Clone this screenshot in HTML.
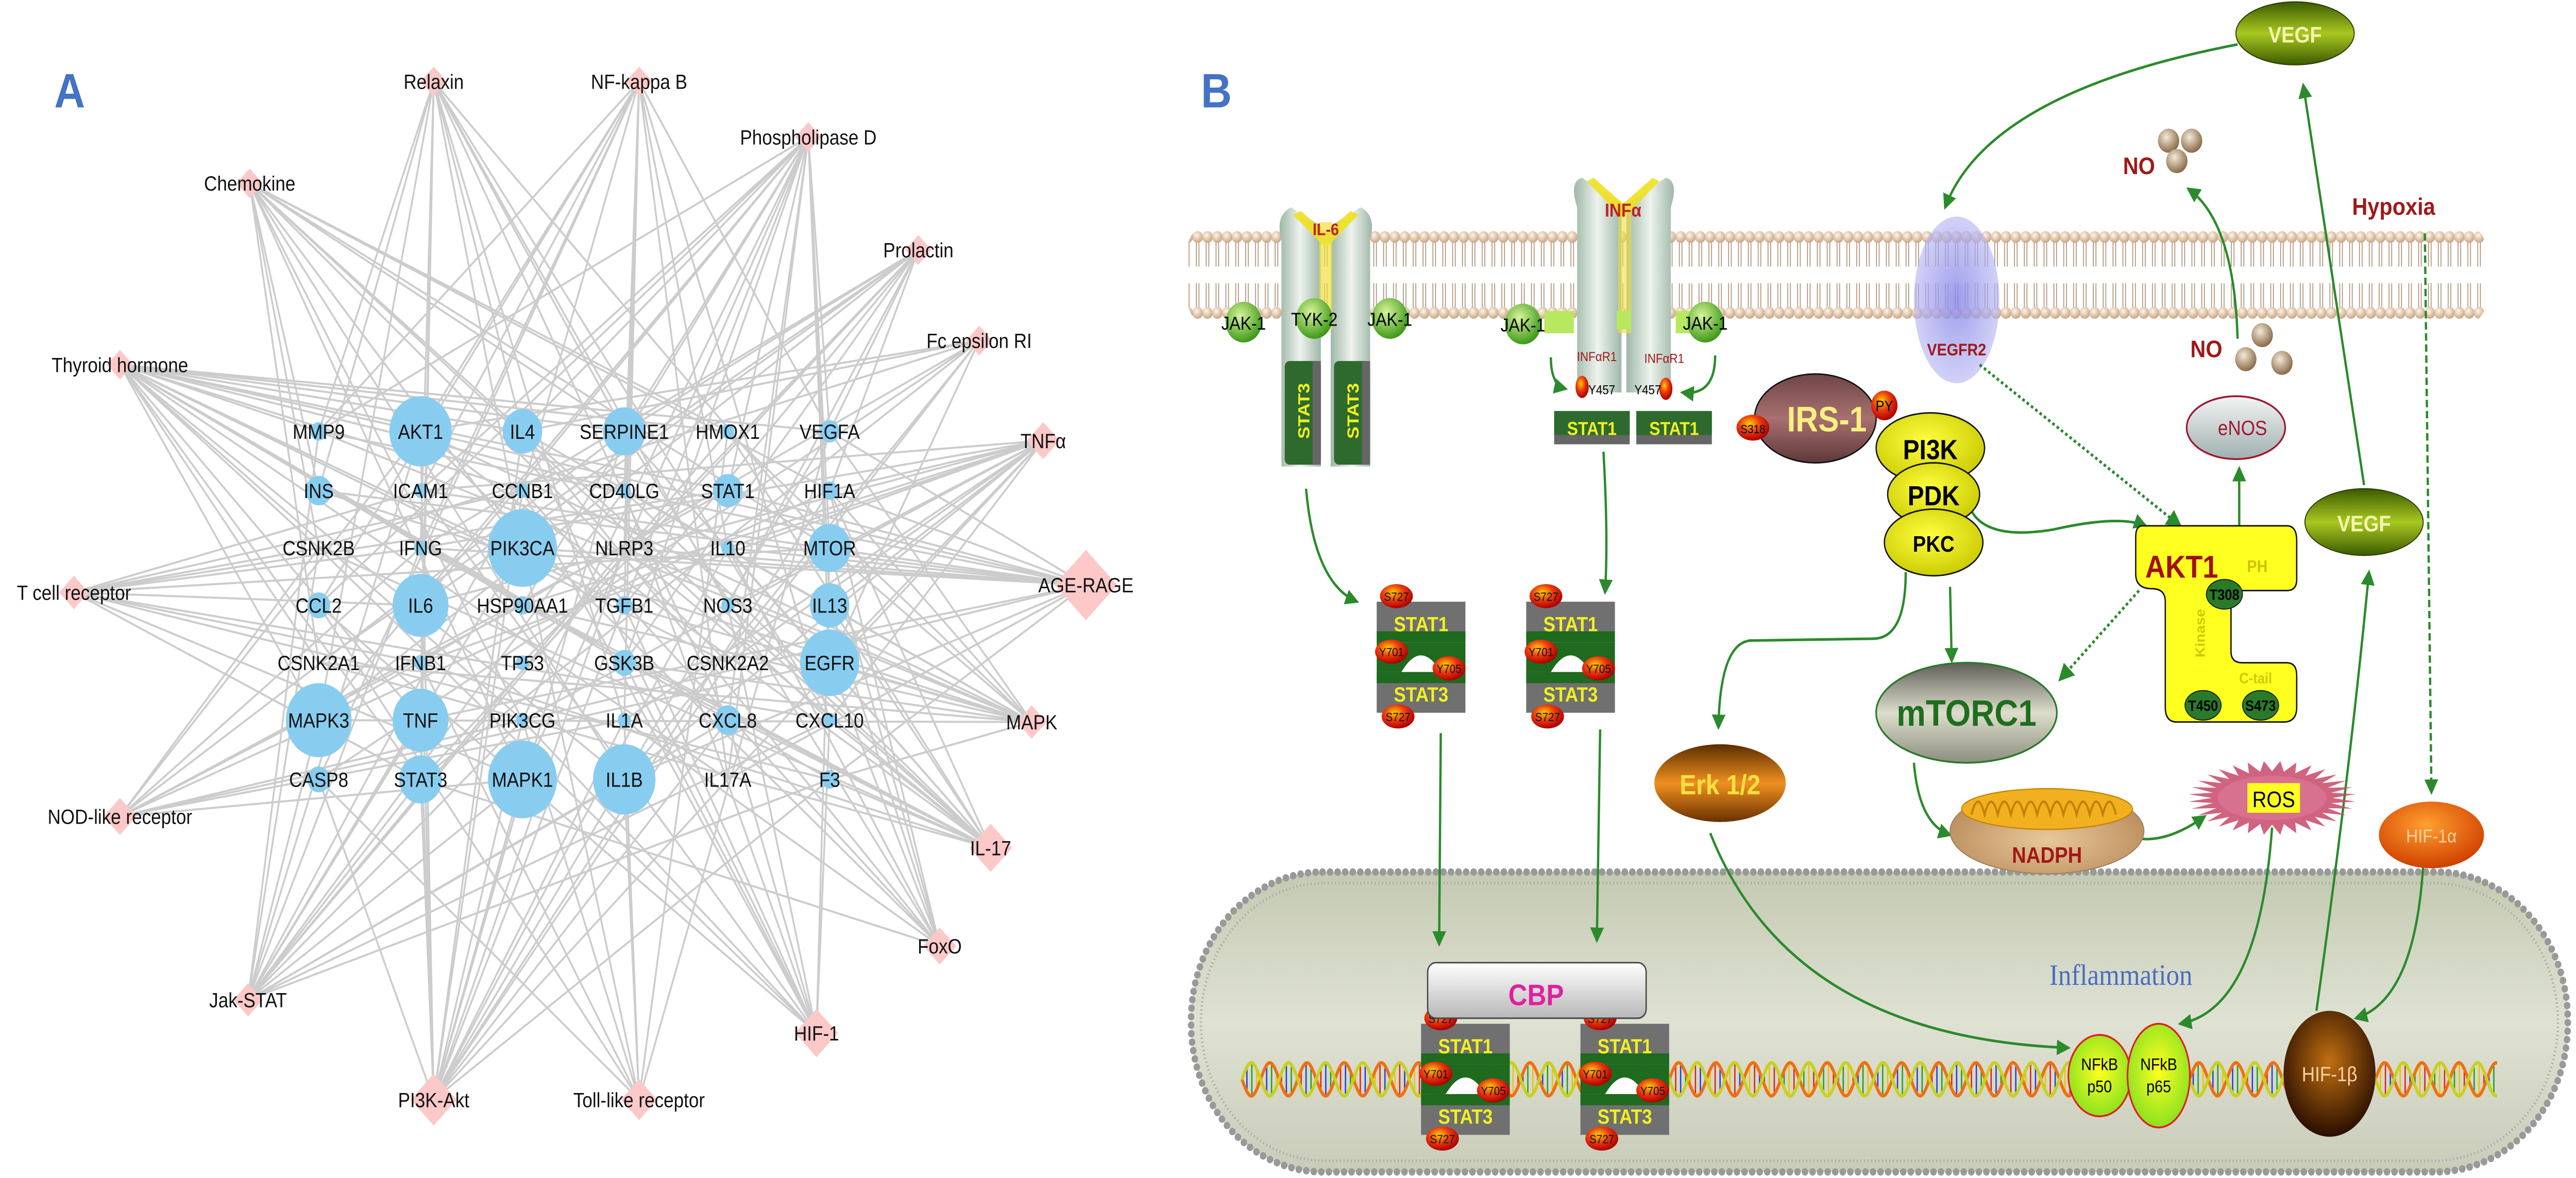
<!DOCTYPE html>
<html><head><meta charset="utf-8"><style>
html,body{margin:0;padding:0;background:#fff;width:100%;height:100%;overflow:hidden}
svg{display:block;position:absolute;left:0;top:0;width:100vw;height:100vh}
text{font-family:"Liberation Sans",sans-serif}
</style></head><body>
<svg id="s" xmlns="http://www.w3.org/2000/svg" viewBox="0 0 1568 636.3" preserveAspectRatio="none">
<defs>
<marker id="ar" markerWidth="6" markerHeight="6" refX="5" refY="3" orient="auto" markerUnits="strokeWidth"><path d="M0,0 L6,3 L0,6 z" fill="#2b8a2b"/></marker>
<radialGradient id="head" cx="40%" cy="35%" r="65%"><stop offset="0" stop-color="#fff5ea"/><stop offset="1" stop-color="#c9a684"/></radialGradient>
<pattern id="mem" x="0" y="122" width="6" height="53" patternUnits="userSpaceOnUse">
<line x1="2.2" y1="8" x2="2.2" y2="22" stroke="#a88c70" stroke-width="0.5"/><line x1="3.8" y1="8" x2="3.8" y2="22" stroke="#a88c70" stroke-width="0.5"/>
<line x1="2.2" y1="31" x2="2.2" y2="45" stroke="#a88c70" stroke-width="0.5"/><line x1="3.8" y1="31" x2="3.8" y2="45" stroke="#a88c70" stroke-width="0.5"/>
<circle cx="3" cy="6" r="3.2" fill="url(#head)"/><circle cx="3" cy="47" r="3.2" fill="url(#head)"/>
</pattern>
<linearGradient id="nuc" x1="0" y1="0" x2="0" y2="1"><stop offset="0" stop-color="#c4c9b2"/><stop offset="0.5" stop-color="#dfe2d3"/><stop offset="1" stop-color="#c9ccb9"/></linearGradient>
<linearGradient id="tube" x1="0" y1="0" x2="1" y2="0"><stop offset="0" stop-color="#9fb7a8"/><stop offset="0.5" stop-color="#eef3ee"/><stop offset="1" stop-color="#9fb7a8"/></linearGradient>
<radialGradient id="jak" cx="40%" cy="35%" r="65%"><stop offset="0" stop-color="#d8f59a"/><stop offset="1" stop-color="#3f9a1a"/></radialGradient>
<radialGradient id="red" cx="40%" cy="35%" r="65%"><stop offset="0" stop-color="#ffd000"/><stop offset="0.5" stop-color="#e83a10"/><stop offset="1" stop-color="#b00000"/></radialGradient>
<radialGradient id="yel" cx="45%" cy="40%" r="65%"><stop offset="0" stop-color="#ffff40"/><stop offset="1" stop-color="#c8c800"/></radialGradient>
<linearGradient id="irs" x1="0" y1="0" x2="0" y2="1"><stop offset="0" stop-color="#6e4545"/><stop offset="0.5" stop-color="#a87070"/><stop offset="1" stop-color="#5e3838"/></linearGradient>
<linearGradient id="mtor" x1="0" y1="0" x2="0" y2="1"><stop offset="0" stop-color="#5e5e58"/><stop offset="0.5" stop-color="#ddddcc"/><stop offset="1" stop-color="#8e8e80"/></linearGradient>
<linearGradient id="erk" x1="0" y1="0" x2="0" y2="1"><stop offset="0" stop-color="#5a2c00"/><stop offset="0.5" stop-color="#f09020"/><stop offset="1" stop-color="#6a3000"/></linearGradient>
<linearGradient id="vegf" x1="0" y1="0" x2="0" y2="1"><stop offset="0" stop-color="#3c5a00"/><stop offset="0.5" stop-color="#a8c820"/><stop offset="1" stop-color="#3c5a00"/></linearGradient>
<radialGradient id="no" cx="40%" cy="35%" r="65%"><stop offset="0" stop-color="#f4ead8"/><stop offset="1" stop-color="#8a6a48"/></radialGradient>
<linearGradient id="enos" x1="0" y1="0" x2="0" y2="1"><stop offset="0" stop-color="#f4f4f4"/><stop offset="1" stop-color="#9fb0b0"/></linearGradient>
<radialGradient id="hifa" cx="45%" cy="35%" r="65%"><stop offset="0" stop-color="#ffa030"/><stop offset="1" stop-color="#d04000"/></radialGradient>
<radialGradient id="hifb" cx="50%" cy="40%" r="60%"><stop offset="0" stop-color="#c07010"/><stop offset="1" stop-color="#2a0e00"/></radialGradient>
<radialGradient id="nfk" cx="50%" cy="45%" r="60%"><stop offset="0" stop-color="#ffff20"/><stop offset="1" stop-color="#80e020"/></radialGradient>
<radialGradient id="mito" cx="50%" cy="60%" r="60%"><stop offset="0" stop-color="#e8c89a"/><stop offset="1" stop-color="#b88a5a"/></radialGradient>
<radialGradient id="vr" cx="50%" cy="50%" r="55%"><stop offset="0" stop-color="#8a8ae8"/><stop offset="1" stop-color="#b8b8f4" stop-opacity="0.7"/></radialGradient>
<linearGradient id="cbp" x1="0" y1="0" x2="0" y2="1"><stop offset="0" stop-color="#ffffff"/><stop offset="1" stop-color="#b8b8b8"/></linearGradient>
</defs>

<g id="edges" stroke="#cccccc" stroke-width="1.1" fill="none"></g>
<g id="nodes"></g>
<text x="33" y="58" font-size="26" font-weight="bold" fill="#4472c4">A</text>

<text x="731" y="58" font-size="26" font-weight="bold" fill="#4472c4">B</text>
<rect x="723" y="122" width="790" height="53" rx="12" fill="url(#mem)"/>
<rect x="725" y="471" width="838" height="162" rx="80" fill="url(#nuc)" stroke="#999" stroke-width="4" stroke-dasharray="0 4.6" stroke-linecap="round"/>
<rect x="731" y="477" width="826" height="150" rx="75" fill="none" stroke="#aaa" stroke-width="1.5" stroke-dasharray="0.6 1.6"/>
<g id="dna"></g>
<text x="1291" y="532" font-size="16" fill="#4a6ec0" text-anchor="middle" style="font-family:'Liberation Serif',serif">Inflammation</text>

<path d="M780,252 L780,130 Q776,116 786,112 L804,122 L804,252 Z" fill="url(#tube)"/>
<path d="M810,252 L810,122 L828,112 Q838,116 834,130 L834,252 Z" fill="url(#tube)"/>
<path d="M787,116 L807,134 L827,116 L822,114 L807,126 L792,114Z" fill="#f0e020" opacity="0.9"/>
<rect x="803" y="120" width="8" height="58" fill="#f0e040" opacity="0.7"/>
<text x="807" y="127" font-size="9" font-weight="bold" fill="#c02020" text-anchor="middle">IL-6</text>
<rect x="782" y="195" width="22" height="56" rx="3" fill="#2e6a2e"/><rect x="812" y="195" width="22" height="56" rx="3" fill="#2e6a2e"/>
<rect x="799" y="195" width="5" height="56" fill="#666"/><rect x="829" y="195" width="5" height="56" fill="#666"/>
<text transform="translate(797,222) rotate(-90)" font-size="10" font-weight="bold" fill="#f0f020" text-anchor="middle">STAT3</text>
<text transform="translate(827,222) rotate(-90)" font-size="10" font-weight="bold" fill="#f0f020" text-anchor="middle">STAT3</text>
<circle cx="757" cy="174" r="11" fill="url(#jak)"/><circle cx="800" cy="172" r="11" fill="url(#jak)"/><circle cx="846" cy="172" r="11" fill="url(#jak)"/>
<text x="757" y="178" font-size="10" text-anchor="middle">JAK-1</text>
<text x="800" y="176" font-size="10" text-anchor="middle">TYK-2</text>
<text x="846" y="176" font-size="10" text-anchor="middle">JAK-1</text>

<path d="M960,212 L960,112 Q955,98 963,96 L987,110 L987,212 Z" fill="url(#tube)"/>
<path d="M990,212 L990,110 L1014,96 Q1022,98 1017,112 L1017,212 Z" fill="url(#tube)"/>
<path d="M966,98 L988,118 L1010,98 L1006,96 L988,110 L970,96Z" fill="#f0e020" opacity="0.9"/>
<rect x="985" y="110" width="8" height="70" fill="#f0e040" opacity="0.6"/>
<text x="988" y="117" font-size="10" font-weight="bold" fill="#c02020" text-anchor="middle">INFα</text>
<rect x="940" y="168" width="18" height="12" fill="#b8e860"/><rect x="984" y="168" width="9" height="10" fill="#b8e860"/><rect x="1020" y="168" width="14" height="12" fill="#b8e860"/>
<circle cx="927" cy="175" r="11" fill="url(#jak)"/><circle cx="1038" cy="174" r="11" fill="url(#jak)"/>
<text x="927" y="179" font-size="10" text-anchor="middle">JAK-1</text>
<text x="1038" y="178" font-size="10" text-anchor="middle">JAK-1</text>
<text x="972" y="195" font-size="7" fill="#a01818" text-anchor="middle">INFαR1</text>
<text x="1013" y="196" font-size="7" fill="#a01818" text-anchor="middle">INFαR1</text>
<ellipse cx="963" cy="209" rx="4" ry="6" fill="url(#red)"/><ellipse cx="1014" cy="210" rx="4" ry="6" fill="url(#red)"/>
<text x="975" y="213" font-size="7" text-anchor="middle">Y457</text><text x="1003" y="213" font-size="7" text-anchor="middle">Y457</text>
<rect x="946" y="222" width="46" height="18" fill="#666"/><rect x="946" y="222" width="46" height="13" fill="#2e6a2e"/>
<rect x="996" y="222" width="46" height="18" fill="#666"/><rect x="996" y="222" width="46" height="13" fill="#2e6a2e"/>
<text x="969" y="235" font-size="10" font-weight="bold" fill="#f0f020" text-anchor="middle">STAT1</text>
<text x="1019" y="235" font-size="10" font-weight="bold" fill="#f0f020" text-anchor="middle">STAT1</text>

<g id="dimers"></g>

<rect x="869" y="520" width="133" height="30" rx="5" fill="url(#cbp)" stroke="#444" stroke-width="0.8"/>
<text x="935" y="543" font-size="16" font-weight="bold" fill="#e020a0" text-anchor="middle">CBP</text>

<ellipse cx="1191" cy="162" rx="26" ry="45" fill="url(#vr)" opacity="0.85"/>
<text x="1191" y="192" font-size="9" font-weight="bold" fill="#a01818" text-anchor="middle">VEGFR2</text>

<g fill="none" stroke="#2b8a2b" stroke-width="1.4">
<path d="M795,264 Q800,315 826,325" marker-end="url(#ar)"/>
<path d="M976,244 Q979,290 977,320" marker-end="url(#ar)"/>
<path d="M877,396 L876,510" marker-end="url(#ar)"/>
<path d="M974,394 L972,508" marker-end="url(#ar)"/>
<path d="M944,193 Q944,208 953,210" marker-end="url(#ar)"/>
<path d="M1044,192 Q1044,214 1024,212" marker-end="url(#ar)"/>
<path d="M1362,24 Q1210,50 1184,112" marker-end="url(#ar)"/>
<path d="M1439,262 L1402,46" marker-end="url(#ar)"/>
<path d="M1410,546 Q1430,420 1442,309" marker-end="url(#ar)"/>
<path d="M1475,467 Q1470,540 1434,550" marker-end="url(#ar)"/>
<path d="M1362,183 Q1360,120 1332,102" marker-end="url(#ar)"/>
<path d="M1363,284 L1363,253" marker-end="url(#ar)"/>
<path d="M1200,276 Q1210,292 1250,286 Q1290,278 1306,284" marker-end="url(#ar)"/>
<path d="M1187,317 L1188,357" marker-end="url(#ar)"/>
<path d="M1160,309 Q1160,345 1140,345 L1065,346 Q1047,348 1046,393" marker-end="url(#ar)"/>
<path d="M1165,412 Q1168,445 1187,451" marker-end="url(#ar)"/>
<path d="M1302,453 Q1320,455 1342,441" marker-end="url(#ar)"/>
<path d="M1383,447 Q1375,545 1327,553" marker-end="url(#ar)"/>
<path d="M1041,450 Q1090,560 1259,566" marker-end="url(#ar)"/>
<path d="M1476,126 L1480,428" stroke-dasharray="4 2" marker-end="url(#ar)"/>
<path d="M1205,197 L1327,284" stroke-dasharray="1.6 1.6" stroke-width="1.6" marker-end="url(#ar)"/>
<path d="M1302,319 L1254,367" stroke-dasharray="1.6 1.6" stroke-width="1.6" marker-end="url(#ar)"/>
</g>

<ellipse cx="1105" cy="226" rx="37" ry="24" fill="url(#irs)" stroke="#111" stroke-width="0.8"/>
<text x="1112" y="233" font-size="19" font-weight="bold" fill="#f8f080" text-anchor="middle">IRS-1</text>
<ellipse cx="1067" cy="231" rx="10" ry="7" fill="url(#red)"/><text x="1067" y="234" font-size="6.5" text-anchor="middle">S318</text>
<ellipse cx="1147" cy="219" rx="8" ry="8" fill="url(#red)"/><text x="1147" y="222" font-size="8" text-anchor="middle">PY</text>
<ellipse cx="1175" cy="242" rx="33" ry="19" fill="url(#yel)" stroke="#111" stroke-width="0.8"/>
<ellipse cx="1177" cy="267" rx="28" ry="17" fill="url(#yel)" stroke="#111" stroke-width="0.8"/>
<ellipse cx="1177" cy="293" rx="30" ry="18" fill="url(#yel)" stroke="#111" stroke-width="0.8"/>
<text x="1175" y="248" font-size="15" font-weight="bold" text-anchor="middle">PI3K</text>
<text x="1177" y="273" font-size="15" font-weight="bold" text-anchor="middle">PDK</text>
<text x="1177" y="298" font-size="12" font-weight="bold" text-anchor="middle">PKC</text>

<path d="M1304,284 L1392,284 Q1398,284 1398,292 L1398,313 Q1398,319 1392,319 L1365,319 Q1358,319 1358,326 L1358,352 Q1358,358 1365,358 L1392,358 Q1398,358 1398,365 L1398,382 Q1398,390 1390,390 L1325,390 Q1318,390 1318,382 L1318,325 Q1318,318 1310,318 Q1300,318 1300,310 L1300,290 Q1300,284 1304,284Z" fill="#ffff20" stroke="#111" stroke-width="0.8"/>
<text x="1328" y="312" font-size="17" font-weight="bold" fill="#a01010" text-anchor="middle">AKT1</text>
<text x="1374" y="309" font-size="9" font-weight="bold" fill="#d0c000" text-anchor="middle">PH</text>
<text transform="translate(1342,342) rotate(-90)" font-size="8" font-weight="bold" fill="#d0c800" text-anchor="middle">Kinase</text>
<text x="1373" y="369" font-size="8" font-weight="bold" fill="#d0c800" text-anchor="middle">C-tail</text>
<ellipse cx="1354" cy="321" rx="11" ry="8" fill="#2a7a2a" stroke="#111" stroke-width="0.5"/><text x="1354" y="324" font-size="8" font-weight="bold" text-anchor="middle">T308</text>
<ellipse cx="1341" cy="381" rx="11" ry="8" fill="#2a7a2a" stroke="#111" stroke-width="0.5"/><text x="1341" y="384" font-size="8" font-weight="bold" text-anchor="middle">T450</text>
<ellipse cx="1376" cy="381" rx="11" ry="8" fill="#2a7a2a" stroke="#111" stroke-width="0.5"/><text x="1376" y="384" font-size="8" font-weight="bold" text-anchor="middle">S473</text>

<ellipse cx="1361" cy="231" rx="30" ry="17" fill="url(#enos)" stroke="#a01830" stroke-width="1"/>
<text x="1365" y="235" font-size="11" fill="#a01830" text-anchor="middle">eNOS</text>

<ellipse cx="1197" cy="385" rx="55" ry="27" fill="url(#mtor)" stroke="#2b7a2b" stroke-width="1"/>
<text x="1197" y="392" font-size="20" font-weight="bold" fill="#1e6e1e" text-anchor="middle">mTORC1</text>

<ellipse cx="1047" cy="423" rx="40" ry="21" fill="url(#erk)"/>
<text x="1047" y="429" font-size="15" font-weight="bold" fill="#ffe040" text-anchor="middle">Erk 1/2</text>

<ellipse cx="1246" cy="449" rx="59" ry="23" fill="url(#mito)" stroke="#a08060" stroke-width="0.6"/>
<ellipse cx="1246" cy="437" rx="52" ry="11" fill="#f0b020" stroke="#c08000" stroke-width="0.6"/>
<path d="M1200,440 q4,-14 8,0 q4,-14 8,0 q4,-14 8,0 q4,-14 8,0 q4,-14 8,0 q4,-14 8,0 q4,-14 8,0 q4,-14 8,0 q4,-14 8,0 q4,-14 8,0 q4,-14 8,0" fill="none" stroke="#c08000" stroke-width="1.2"/>
<text x="1246" y="466" font-size="12" font-weight="bold" fill="#a01818" text-anchor="middle">NADPH</text>

<polygon id="ros" fill="#c84868" opacity="0.85"/>
<ellipse cx="1383" cy="431" rx="33" ry="12" fill="#d87090"/>
<rect x="1368" y="423" width="32" height="16" fill="#ffff20"/>
<text x="1384" y="436" font-size="12" text-anchor="middle">ROS</text>

<ellipse cx="1397" cy="18" rx="36" ry="17" fill="url(#vegf)" stroke="#2a4000" stroke-width="0.6"/>
<text x="1397" y="23" font-size="12" font-weight="bold" fill="#f4f4b0" text-anchor="middle">VEGF</text>
<ellipse cx="1439" cy="282" rx="36" ry="18" fill="url(#vegf)" stroke="#2a4000" stroke-width="0.6"/>
<text x="1439" y="287" font-size="12" font-weight="bold" fill="#f4f4b0" text-anchor="middle">VEGF</text>

<text x="1302" y="94" font-size="13" font-weight="bold" fill="#a01818" text-anchor="middle">NO</text>
<circle cx="1320" cy="76" r="6.5" fill="url(#no)"/><circle cx="1334" cy="76" r="6.5" fill="url(#no)"/><circle cx="1325" cy="87" r="6.5" fill="url(#no)"/>
<text x="1343" y="193" font-size="13" font-weight="bold" fill="#a01818" text-anchor="middle">NO</text>
<circle cx="1377" cy="181" r="6.5" fill="url(#no)"/><circle cx="1367" cy="194" r="6.5" fill="url(#no)"/><circle cx="1389" cy="196" r="6.5" fill="url(#no)"/>
<text x="1457" y="116" font-size="13" font-weight="bold" fill="#a01818" text-anchor="middle">Hypoxia</text>

<ellipse cx="1480" cy="451" rx="32" ry="18" fill="url(#hifa)"/>
<text x="1480" y="455" font-size="10" fill="#ffd0a0" text-anchor="middle">HIF-1α</text>
<ellipse cx="1418" cy="580" rx="28" ry="34" fill="url(#hifb)"/>
<text x="1418" y="584" font-size="11" fill="#ffd0a0" text-anchor="middle">HIF-1β</text>

<ellipse cx="1278" cy="581" rx="19" ry="22" fill="url(#nfk)" stroke="#e02020" stroke-width="1"/>
<ellipse cx="1314" cy="581" rx="19" ry="28" fill="url(#nfk)" stroke="#e02020" stroke-width="1"/>
<text x="1278" y="578" font-size="9" text-anchor="middle">NFkB</text><text x="1278" y="590" font-size="9" text-anchor="middle">p50</text>
<text x="1314" y="578" font-size="9" text-anchor="middle">NFkB</text><text x="1314" y="590" font-size="9" text-anchor="middle">p65</text>
</svg>
<script>
var NS="http://www.w3.org/2000/svg",s=document.getElementById('s');
function el(t,a,p,txt){var e=document.createElementNS(NS,t);for(var k in a)e.setAttribute(k,a[k]);if(txt)e.textContent=txt;(p||s).appendChild(e);return e;}
var cols=[194,256,318,380,443,505],rows=[233,265,296,327,358,389,421];
var grid=[["MMP9",5,"AKT1",19,"IL4",12,"SERPINE1",13,"HMOX1",4,"VEGFA",6],
["INS",8,"ICAM1",4,"CCNB1",4,"CD40LG",4,"STAT1",9,"HIF1A",5],
["CSNK2B",0,"IFNG",4,"PIK3CA",21,"NLRP3",0,"IL10",4,"MTOR",13],
["CCL2",7,"IL6",17,"HSP90AA1",5,"TGFB1",5,"NOS3",4,"IL13",12],
["CSNK2A1",0,"IFNB1",4,"TP53",4,"GSK3B",7,"CSNK2A2",0,"EGFR",18],
["MAPK3",20,"TNF",17,"PIK3CG",4,"IL1A",4,"CXCL8",8,"CXCL10",4],
["CASP8",7,"STAT3",13,"MAPK1",21,"IL1B",19,"IL17A",0,"F3",5]];
var circ=[];
for(var r=0;r<7;r++)for(var c=0;c<6;c++)circ.push({x:cols[c],y:rows[r],n:grid[r][c*2],rad:grid[r][c*2+1]});
var dia=[["Relaxin",264,44,8],["NF-kappa B",389,44,8],["Phospholipase D",492,74,8],["Chemokine",152,99,8],["Prolactin",559,135,8],["Thyroid hormone",73,197,8],["Fc epsilon RI",596,184,8],["TNFα",635,238,10],["T cell receptor",45,320,9],["AGE-RAGE",661,316,19],["MAPK",628,390,9],["NOD-like receptor",73,441,10],["IL-17",603,458,13],["FoxO",572,511,10],["Jak-STAT",151,540,9],["HIF-1",497,558,13],["PI3K-Akt",264,594,14],["Toll-like receptor",389,594,11]];
var E=document.getElementById('edges'),N=document.getElementById('nodes');
var seed=7;function rnd(){seed=(seed*16807)%2147483647;return seed/2147483647;}
dia.forEach(function(d){circ.forEach(function(c){if(rnd()<0.38)el('line',{x1:d[1],y1:d[2],x2:c.x,y2:c.y},E);});});
circ.forEach(function(c){if(c.rad>0)el('circle',{cx:c.x,cy:c.y,r:c.rad,fill:'#88cdf0'},N);});
circ.forEach(function(c){el('text',{x:c.x,y:c.y+4,'font-size':11,'text-anchor':'middle',fill:'#111'},N,c.n);});
dia.forEach(function(d){var h=d[3];el('path',{d:'M'+d[1]+','+(d[2]-h)+' L'+(d[1]+h)+','+d[2]+' L'+d[1]+','+(d[2]+h)+' L'+(d[1]-h)+','+d[2]+'Z',fill:'#fcc8c8'},N);});
dia.forEach(function(d){el('text',{x:d[1],y:d[2]+4,'font-size':11,'text-anchor':'middle',fill:'#111'},N,d[0]);});
var D=document.getElementById('dna'),p1='',p2='',colsr=['#e02020','#2040e0','#20a020','#f0c000'];
for(var x=756;x<=1520;x+=1){var y1=583+9*Math.sin((x-756)/3.6),y2=583-9*Math.sin((x-756)/3.6);p1+=(x==756?'M':'L')+x+','+y1.toFixed(1);p2+=(x==756?'M':'L')+x+','+y2.toFixed(1);
 if(x%3==0)el('line',{x1:x,y1:y1,x2:x,y2:y2,stroke:colsr[(x/3)%4],'stroke-width':0.8},D);}
el('path',{d:p1,fill:'none',stroke:'#f07010','stroke-width':1.8},D);el('path',{d:p2,fill:'none',stroke:'#c8d020','stroke-width':1.8},D);
var G=document.getElementById('dimers');
function dimer(cx,cy){
 el('path',{d:'M'+(cx-27)+','+(cy-8)+' L'+(cx+27)+','+(cy-8)+' L'+(cx+27)+','+(cy+8)+' L'+(cx-27)+','+(cy+8)+'Z',fill:'#1e6a1e'},G);
 el('path',{d:'M'+(cx-12)+','+(cy+8)+' Q'+cx+','+(cy-10)+' '+(cx+12)+','+(cy+8)+'Z',fill:'#fff'},G);
 el('rect',{x:cx-27,y:cy-30,width:54,height:22,fill:'#707070'},G);el('rect',{x:cx-27,y:cy-14,width:54,height:6,fill:'#1e6a1e'},G);
 el('rect',{x:cx-27,y:cy+8,width:54,height:22,fill:'#707070'},G);el('rect',{x:cx-27,y:cy+8,width:54,height:6,fill:'#1e6a1e'},G);
 el('text',{x:cx,y:cy-14,'font-size':11,'font-weight':'bold',fill:'#f0f020','text-anchor':'middle'},G,'STAT1');
 el('text',{x:cx,y:cy+24,'font-size':11,'font-weight':'bold',fill:'#f0f020','text-anchor':'middle'},G,'STAT3');
 [[cx-15,cy-33,'S727'],[cx-18,cy-3,'Y701'],[cx+17,cy+6,'Y705'],[cx-14,cy+32,'S727']].forEach(function(o){
  el('ellipse',{cx:o[0],cy:o[1],rx:10,ry:6.5,fill:'url(#red)'},G);el('text',{x:o[0],y:o[1]+2.5,'font-size':6.5,'text-anchor':'middle',fill:'#111'},G,o[2]);});
}
dimer(865,355);dimer(956,355);dimer(892,583);dimer(989,583);
var pts=[];for(var i=0;i<64;i++){var a=i*Math.PI/32,rr=(i%2?1:0.72);pts.push((1383+51*rr*Math.cos(a)).toFixed(1)+','+(431+20*rr*Math.sin(a)).toFixed(1));}
document.getElementById('ros').setAttribute('points',pts.join(' '));
</script>
</body></html>
